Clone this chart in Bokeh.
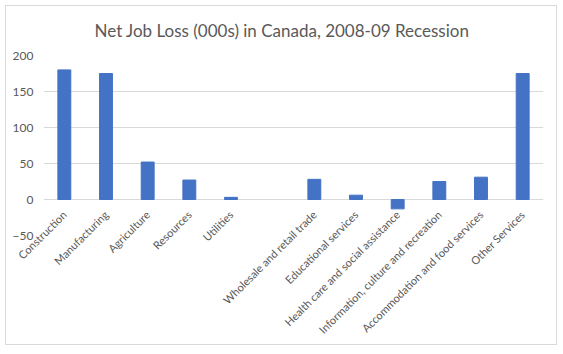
import math
from bokeh.plotting import figure
from bokeh.models import ColumnDataSource, FactorRange, Range1d, FixedTicker
from bokeh.embed import file_html
from bokeh.resources import INLINE

categories = ["Construction", "Manufacturing", "Agriculture", "Resources", "Utilities", " ",
              "Wholesale and retail trade", "Educational services",
              "Health care and social assistance", "Information, culture and recreation",
              "Accommodation and food services", "Other Services"]
values = [180, 175, 52, 27, 3, None, 28, 6, -13, 25, 31, 175]
y_ticks = [-50, 0, 50, 100, 150, 200]
title = "Net Job Loss (000s) in Canada, 2008-09 Recession"

bar_cats = [c for c, v in zip(categories, values) if v is not None]
bar_vals = [v for v in values if v is not None]
src = ColumnDataSource(dict(cat=bar_cats, val=bar_vals, zero=[0] * len(bar_cats)))

FONT = "Lato"
GREY = "#595959"

p = figure(width=552, height=340, x_range=FactorRange(*categories, range_padding=0),
           y_range=Range1d(-50, 200), output_backend="svg", toolbar_location=None,
           min_border_left=37, min_border_right=15, min_border_top=49, min_border_bottom=111)
p.margin = (5, 6, 9, 5)
p.styles = {"border": "1px solid #d9d9d9"}

p.vbar(x="cat", top="val", bottom="zero", width=0.31, color="#4472C4", source=src)

p.xaxis.axis_line_color = None
p.xaxis.major_tick_line_color = None
p.xaxis.minor_tick_line_color = None
p.xaxis.major_tick_out = 0
p.xaxis.major_tick_in = 0
p.xaxis.major_label_orientation = math.pi / 4
p.xaxis.major_label_standoff = -23
p.xaxis.major_label_text_font = FONT
p.xaxis.major_label_text_font_size = "11px"
p.xaxis.major_label_text_color = GREY
p.xgrid.visible = False

p.ygrid.grid_line_color = "#d9d9d9"
p.yaxis.ticker = FixedTicker(ticks=y_ticks)
p.yaxis.axis_line_color = None
p.yaxis.major_tick_line_color = None
p.yaxis.minor_tick_line_color = None
p.yaxis.major_tick_out = 0
p.yaxis.major_tick_in = 0
p.yaxis.major_label_standoff = 10
p.yaxis.major_label_text_font = FONT
p.yaxis.major_label_text_font_size = "12px"
p.yaxis.major_label_text_color = GREY
p.outline_line_color = None

p.title.text = title
p.title.align = "left"
p.title.offset = 51
p.title.vertical_align = "top"
p.title.text_font = FONT
p.title.text_font_size = "17px"
p.title.text_font_style = "normal"
p.title.text_color = GREY
p.title.standoff = 25

open("out.html", "w").write(file_html(p, INLINE))
